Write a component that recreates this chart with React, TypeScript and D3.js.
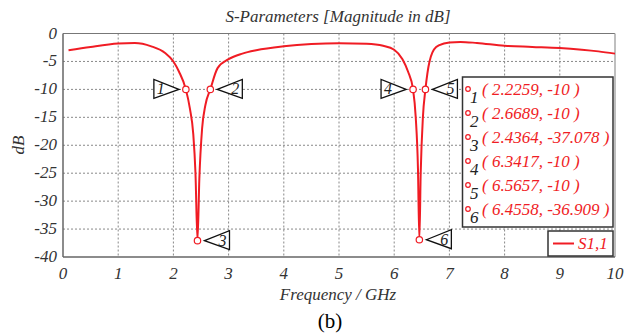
import * as d3 from "d3"
import React from 'react';

// S11 curve
const freq = [0.1, 0.5, 1.0, 1.3, 1.6, 1.85, 2.0, 2.1, 2.2259, 2.3, 2.36, 2.4, 2.4364, 2.47, 2.52, 2.58, 2.6689, 2.8, 3.0, 3.25, 3.5, 4.0, 4.5, 5.0, 5.5, 5.8, 6.0, 6.15, 6.25, 6.3417, 6.39, 6.43, 6.4558, 6.48, 6.52, 6.5657, 6.64, 6.76, 6.9, 7.0, 7.2, 7.5, 8.0, 8.5, 9.0, 9.4, 9.7, 10.0];
const s11 = [-3.0, -2.4, -1.8, -1.7, -2.3, -3.5, -5.0, -6.8, -10, -13.5, -18, -25, -37.078, -26, -17, -12.8, -10, -6.2, -4.6, -3.6, -3.0, -2.3, -1.9, -1.75, -1.85, -2.2, -2.9, -4.6, -6.8, -10, -15, -24, -36.909, -25, -15, -10, -5, -2.4, -1.8, -1.6, -1.5, -1.7, -2.2, -2.4, -2.6, -2.9, -3.2, -3.6];

// markers
const markerIds = ["1", "2", "3", "4", "5", "6"];
const markerX = [2.2259, 2.6689, 2.4364, 6.3417, 6.5657, 6.4558];
const markerY = [-10, -10, -37.078, -10, -10, -36.909];
const markerSide = [-1, 1, 1, -1, 1, 1]; // callout on left (-1) or right (1)

const xTicks = [0, 1, 2, 3, 4, 5, 6, 7, 8, 9, 10];
const yTicks = [0, -5, -10, -15, -20, -25, -30, -35, -40];

const W = 637, H = 336;
const L = 63, R = 615, T = 33.5, B = 257;
const serif = "'Liberation Serif'";
const red = "#f01c24";
const txt = "#333";

const It = ({ x, y, size = 17, fill = txt, anchor = 'start', rot = 0, children }:
  { x: number; y: number; size?: number; fill?: string; anchor?: string; rot?: number; children: React.ReactNode }) => (
  <text transform={`translate(${x},${y}) rotate(${rot})`} fontSize={size} fill={fill}
    textAnchor={anchor} style={{ fontFamily: serif, fontStyle: 'italic' }}>{children}</text>
);

export default function App() {
  const x = d3.scaleLinear().domain([0, 10]).range([L, R]);
  const y = d3.scaleLinear().domain([0, -40]).range([T, B]);
  const pts = freq.map((f, i) => [f, s11[i]] as [number, number]);
  const line = d3.line<[number, number]>()
    .x(d => x(d[0])).y(d => y(d[1]))
    .curve(d3.curveMonotoneX);

  return (
    <svg width={W} height={H} style={{ position: 'absolute', left: 0, top: 0, background: '#fff' }}>
      {/* title */}
      <It x={338} y={22} size={17} anchor="middle">S-Parameters [Magnitude in dB]</It>

      {/* grid */}
      {xTicks.slice(1, -1).map(t => (
        <line key={'gx' + t} x1={x(t)} x2={x(t)} y1={T} y2={B} stroke="#888" strokeWidth={1} strokeDasharray="2,2" />
      ))}
      {yTicks.slice(1, -1).map(t => (
        <line key={'gy' + t} x1={L} x2={R} y1={y(t)} y2={y(t)} stroke="#888" strokeWidth={1} strokeDasharray="2,2" />
      ))}

      {/* frame */}
      <line x1={L} x2={R} y1={T} y2={T} stroke="#777" />
      <line x1={R} x2={R} y1={T} y2={B} stroke="#aaa" strokeWidth={1.5} />
      <line x1={L} x2={L} y1={T} y2={B} stroke="#666" strokeWidth={1.5} />
      <line x1={L} x2={R} y1={B} y2={B} stroke="#666" strokeWidth={1.5} />

      {/* ticks */}
      {xTicks.map(t => (
        <It key={'xt' + t} x={x(t)} y={279} anchor="middle">{t}</It>
      ))}
      {yTicks.map(t => (
        <It key={'yt' + t} x={57} y={y(t) + 5} anchor="end">{t}</It>
      ))}

      <It x={24} y={145} rot={-90} anchor="middle">dB</It>
      <It x={338} y={300} anchor="middle">Frequency / GHz</It>
      <text x={330} y={328} textAnchor="middle" fontSize={21} style={{ fontFamily: serif }} fill="#000">(b)</text>

      {/* curve */}
      <path d={line(pts) || ''} fill="none" stroke={red} strokeWidth={2} />

      {/* markers and callouts */}
      {markerIds.map((id, i) => {
        const px = x(markerX[i]), py = y(markerY[i]);
        const s = markerSide[i];
        const tipX = px + s * 7;
        const baseX = tipX + s * 25;
        const poly = [[tipX, py], [baseX, py - 10], [baseX, py + 9]].map(p => p.join(',')).join(' ');
        return (
          <g key={'m' + id}>
            <circle cx={px} cy={py} r={3.2} fill="#fff" stroke={red} strokeWidth={1.2} />
            <polygon points={poly} fill="#fff" stroke="#111" strokeWidth={1.3} />
            <It x={baseX - s * 7} y={py + 5} size={16} fill="#222" anchor="middle">{id}</It>
          </g>
        );
      })}

      {/* marker table */}
      <rect x={462.5} y={77} width={150.5} height={150} fill="#fff" stroke="#333" strokeWidth={1.5} />
      {markerIds.map((id, i) => {
        const ry = 89 + i * 24;
        return (
          <g key={'row' + id}>
            <circle cx={468} cy={ry} r={2.3} fill="#fff" stroke={red} strokeWidth={1.2} />
            <It x={470} y={ry + 14} fill="#222">{id}</It>
            <It x={482} y={ry + 6} fill={red}>{`( ${markerX[i]}, ${markerY[i]} )`}</It>
          </g>
        );
      })}

      {/* legend */}
      <rect x={548} y={231} width={65} height={25} fill="#fff" stroke="#333" strokeWidth={1.5} />
      <line x1={553} x2={574} y1={243.5} y2={243.5} stroke={red} strokeWidth={2} />
      <It x={578} y={249} fill={red}>S1,1</It>
    </svg>
  );
}
